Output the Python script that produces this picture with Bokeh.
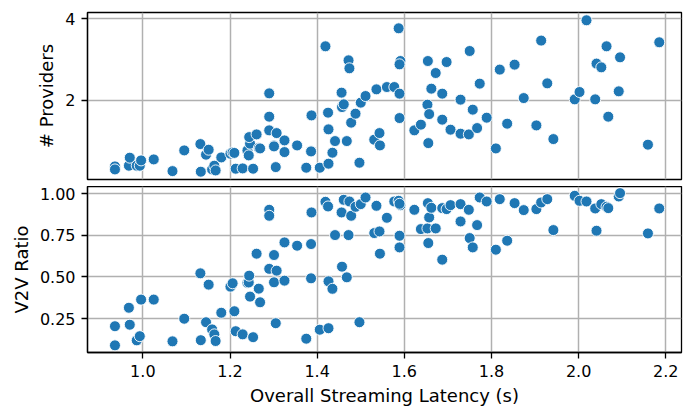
from bokeh.plotting import figure
from bokeh.layouts import column
from bokeh.models import FixedTicker, NumeralTickFormatter, Range1d, ColumnDataSource
from bokeh.embed import file_html
from bokeh.resources import INLINE

latency = [0.936, 0.936, 0.968, 0.970, 0.986, 0.993, 0.996, 1.025, 1.068, 1.095,
           1.132, 1.133, 1.145, 1.151, 1.159, 1.164, 1.167, 1.180, 1.201, 1.206,
           1.210, 1.213, 1.229, 1.240, 1.243, 1.246, 1.244, 1.253, 1.261, 1.266,
           1.269, 1.290, 1.290, 1.290, 1.301, 1.301, 1.307, 1.305, 1.325, 1.325,
           1.354, 1.375, 1.386, 1.386, 1.387, 1.406, 1.419, 1.425, 1.426, 1.426,
           1.435, 1.441, 1.456, 1.457, 1.461, 1.468, 1.472, 1.474, 1.478, 1.488,
           1.497, 1.500, 1.511, 1.531, 1.536, 1.543, 1.544, 1.560, 1.577, 1.587,
           1.591, 1.589, 1.589, 1.589, 1.623, 1.638, 1.654, 1.653, 1.657, 1.655,
           1.662, 1.672, 1.687, 1.687, 1.697, 1.706, 1.729, 1.729, 1.748, 1.750,
           1.757, 1.767, 1.773, 1.789, 1.810, 1.819, 1.836, 1.853, 1.874, 1.903,
           1.914, 1.928, 1.942, 1.991, 2.002, 2.018, 2.038, 2.041, 2.052, 2.064,
           2.068, 2.092, 2.095, 2.159, 2.185]

providers = [0.363, 0.289, 0.380, 0.578, 0.380, 0.380, 0.511, 0.536, 0.247, 0.758,
             0.914, 0.232, 0.652, 0.775, 0.289, 0.380, 0.264, 0.585, 0.677, 0.709,
             0.696, 0.306, 0.314, 0.758, 0.635, 0.923, 1.086, 0.306, 1.153, 0.815,
             0.807, 2.165, 1.590, 1.252, 0.881, 0.857, 1.185, 0.346, 1.005, 0.716,
             0.881, 0.331, 0.741, 0.733, 1.622, 0.331, 3.326, 1.689, 1.277, 0.430,
             0.701, 0.988, 2.183, 1.827, 1.894, 0.988, 2.980, 2.783, 1.442, 1.664,
             0.454, 1.936, 2.099, 1.022, 2.264, 1.185, 0.881, 2.321, 2.321, 3.770,
             2.963, 2.881, 2.158, 1.556, 1.252, 1.393, 2.963, 1.886, 1.654, 0.938,
             2.281, 2.667, 2.158, 1.516, 2.938, 1.269, 2.010, 1.170, 1.153, 3.210,
             1.763, 1.309, 2.405, 1.565, 0.807, 2.751, 1.417, 2.874, 2.049, 1.375,
             3.467, 2.412, 1.037, 2.017, 2.198, 3.968, 2.017, 2.899, 2.807, 3.326,
             1.590, 2.215, 3.054, 0.899, 3.425]

v2v_ratio = [0.204, 0.089, 0.315, 0.213, 0.119, 0.144, 0.364, 0.364, 0.113, 0.249,
             0.522, 0.120, 0.228, 0.454, 0.185, 0.155, 0.115, 0.285, 0.442, 0.462,
             0.294, 0.174, 0.155, 0.465, 0.467, 0.382, 0.508, 0.138, 0.640, 0.430,
             0.348, 0.904, 0.868, 0.549, 0.632, 0.468, 0.538, 0.222, 0.708, 0.478,
             0.688, 0.129, 0.698, 0.492, 0.888, 0.183, 0.952, 0.924, 0.474, 0.192,
             0.429, 0.752, 0.888, 0.562, 0.964, 0.498, 0.752, 0.954, 0.868, 0.922,
             0.228, 0.938, 0.978, 0.764, 0.928, 0.774, 0.640, 0.856, 0.954, 0.958,
             0.932, 0.940, 0.748, 0.678, 0.904, 0.788, 0.944, 0.792, 0.858, 0.704,
             0.916, 0.792, 0.914, 0.604, 0.908, 0.932, 0.938, 0.834, 0.904, 0.734,
             0.678, 0.812, 0.978, 0.954, 0.664, 0.968, 0.718, 0.944, 0.902, 0.908,
             0.948, 0.968, 0.782, 0.988, 0.958, 0.954, 0.912, 0.778, 0.938, 0.922,
             0.914, 0.984, 1.004, 0.762, 0.912]

x_ticks = [1.0, 1.2, 1.4, 1.6, 1.8, 2.0, 2.2]
prov_ticks = [2, 4]
ratio_ticks = [0.25, 0.5, 0.75, 1.0]

src = ColumnDataSource(dict(x=latency, p=providers, r=v2v_ratio))

FONT = "DejaVu Sans"
BLUE = "#1f77b4"
GRID = "#b0b0b0"
x_range = Range1d(0.873, 2.236)


def style(p):
    p.outline_line_color = "black"
    p.outline_line_width = 1.3
    for ax in (p.xaxis[0], p.yaxis[0]):
        ax.axis_line_color = "black"
        ax.axis_line_width = 1.3
        ax.major_tick_line_color = "black"
        ax.major_tick_line_width = 1.3
        ax.major_tick_out = 6
        ax.major_tick_in = 0
        ax.minor_tick_line_color = None
        ax.major_label_text_font = FONT
        ax.major_label_text_font_size = "16px"
        ax.major_label_text_color = "black"
        ax.axis_label_text_font = FONT
        ax.axis_label_text_font_size = "18px"
        ax.axis_label_text_font_style = "normal"
        ax.axis_label_text_color = "black"
        ax.major_label_standoff = 6
    p.grid.grid_line_color = GRID
    p.grid.grid_line_width = 1.5


p1 = figure(frame_width=594, frame_height=167, x_range=x_range,
            y_range=Range1d(0.04, 4.16), output_backend="svg",
            toolbar_location=None, min_border_left=87, min_border_right=2,
            min_border_top=12, min_border_bottom=7)
p1.scatter("x", "p", source=src, size=11, fill_color=BLUE, line_color="white",
           line_width=0.9)
style(p1)
p1.xaxis.ticker = FixedTicker(ticks=x_ticks)
p1.xaxis.visible = False
p1.yaxis.ticker = FixedTicker(ticks=prov_ticks)
p1.yaxis.formatter = NumeralTickFormatter(format="0")
p1.yaxis.axis_label = "# Providers"

p2 = figure(frame_width=594, frame_height=166, x_range=x_range,
            y_range=Range1d(0.046, 1.044), output_backend="svg",
            toolbar_location=None, min_border_left=87, min_border_right=2,
            min_border_top=0, min_border_bottom=0)
p2.scatter("x", "r", source=src, size=11, fill_color=BLUE, line_color="white",
           line_width=0.9)
style(p2)
p2.xaxis.ticker = FixedTicker(ticks=x_ticks)
p2.xaxis.formatter = NumeralTickFormatter(format="0.0")
p2.xaxis.axis_label = "Overall Streaming Latency (s)"
p2.yaxis.ticker = FixedTicker(ticks=ratio_ticks)
p2.yaxis.formatter = NumeralTickFormatter(format="0.00")
p2.yaxis.axis_label = "V2V Ratio"

layout = column(p1, p2, spacing=0)
open("out.html", "w").write(file_html(layout, INLINE))
